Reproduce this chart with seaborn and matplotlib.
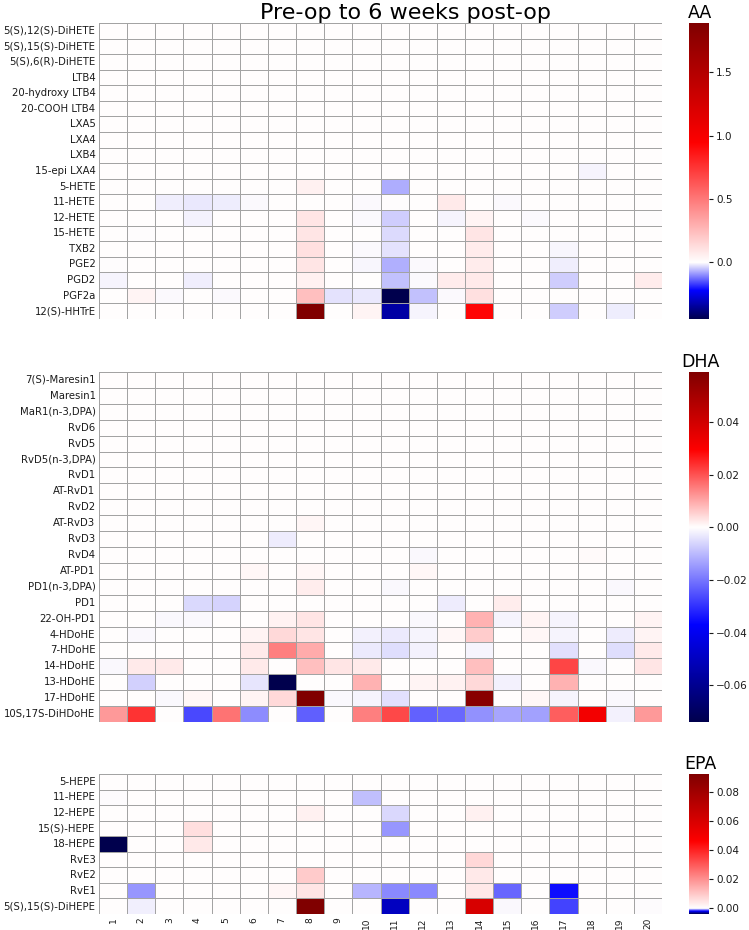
import numpy as np
import pandas as pd
import matplotlib
matplotlib.use("Agg")
import matplotlib.pyplot as plt
from matplotlib.colors import LinearSegmentedColormap
from matplotlib.ticker import MultipleLocator
import seaborn as sns

sns.set_style("white")
plt.rcParams['font.family'] = ['DejaVu Sans']

columns = [str(i) for i in range(1, 21)]

aa_rows = ["5(S),12(S)-DiHETE", "5(S),15(S)-DiHETE", "5(S),6(R)-DiHETE", "LTB4",
           "20-hydroxy LTB4", "20-COOH LTB4", "LXA5", "LXA4", "LXB4", "15-epi LXA4",
           "5-HETE", "11-HETE", "12-HETE", "15-HETE", "TXB2", "PGE2", "PGD2", "PGF2a",
           "12(S)-HHTrE"]
aa_values = [
    [0, 0, 0, 0, 0, 0, 0, 0, 0, 0, 0, 0, 0, 0, 0, 0, 0, 0, 0, 0],
    [0, 0, 0, 0, 0, 0, 0, 0, 0, 0, 0, 0, 0, 0, 0, 0, 0, 0, 0, 0],
    [0, 0, 0, 0, 0, 0, 0, 0, 0, 0, 0, 0, 0, 0, 0, 0, 0, 0, 0, 0],
    [0, 0, 0, 0, 0, 0, 0, 0, 0, 0, 0, 0, 0, 0, 0, 0, 0, 0, 0, 0],
    [0, 0, 0, 0, 0, 0, 0, 0, 0, 0, 0, 0, 0, 0, 0, 0, 0, 0, 0, 0],
    [0, 0, 0, 0, 0, 0, 0, 0, 0, 0, 0, 0, 0, 0, 0, 0, 0, 0, 0, 0],
    [0, 0, 0, 0, 0, 0, 0, 0, 0, 0, 0, 0, 0, 0, 0, 0, 0, 0, 0, 0],
    [0, 0, 0, 0, 0, 0, 0, 0, 0, 0, 0, 0, 0, 0, 0, 0, 0, 0, 0, 0],
    [0, 0, 0, 0, 0, 0, 0, 0, 0, 0, 0, 0, 0, 0, 0, 0, 0, 0, 0, 0],
    [0, 0, 0, 0, 0, 0, 0, 0, 0, 0, 0, 0, 0, 0, 0, 0, 0, -0.011, 0, 0],
    [0, 0, 0, 0, 0, 0, 0, 0.047, 0, 0, -0.074, 0, 0, 0, 0, 0, 0, 0, 0, 0],
    [0, 0, -0.016, -0.022, -0.018, -0.007, 0, 0, 0, -0.007, -0.004, 0, 0.076, 0, -0.007, 0, 0, 0, 0, 0],
    [0, 0, 0, -0.013, 0, 0, 0, 0.095, 0, -0.007, -0.045, 0, -0.011, 0.038, 0, -0.007, 0, 0, 0, -0.004],
    [0, -0.004, 0, 0, 0, 0, 0, 0.095, 0, 0, -0.034, 0, 0, 0.095, 0, 0, 0, 0, 0, 0],
    [0, 0, 0, 0, 0, 0, 0, 0.11, 0, -0.007, -0.027, 0, 0, 0.066, 0, 0, -0.009, 0, 0, 0],
    [-0.004, 0, 0, 0, 0, 0, 0, 0.095, 0, -0.009, -0.072, -0.007, 0, 0.066, 0, 0, -0.016, 0, 0, 0],
    [-0.011, 0, 0, -0.016, 0, 0, 0, 0.047, 0, 0, -0.056, -0.007, 0.066, 0.076, 0, 0, -0.045, 0, 0, 0.066],
    [0, 0.038, -0.007, 0, -0.007, 0, 0, 0.236, -0.027, -0.022, -0.45, -0.056, -0.007, 0.11, 0, 0, 0, 0, 0, 0],
    [0, 0, 0, 0, 0, 0, 0, 1.89, 0, 0.038, -0.34, -0.011, 0, 0.93, 0, 0, -0.045, 0, -0.018, 0],
]

dha_rows = ["7(S)-Maresin1", "Maresin1", "MaR1(n-3,DPA)", "RvD6", "RvD5", "RvD5(n-3,DPA)",
            "RvD1", "AT-RvD1", "RvD2", "AT-RvD3", "RvD3", "RvD4", "AT-PD1", "PD1(n-3,DPA)",
            "PD1", "22-OH-PD1", "4-HDoHE", "7-HDoHE", "14-HDoHE", "13-HDoHE", "17-HDoHE",
            "10S,17S-DiHDoHE"]
dha_values = [
    [0, 0, 0, 0, 0, 0, 0, 0, 0, 0, 0, 0, 0, 0, 0, 0, 0, 0, 0, 0],
    [0, 0, 0, 0, 0, 0, 0, 0, 0, 0, 0, 0, 0, 0, 0, 0, 0, 0, 0, 0],
    [0, 0, 0, 0, 0, 0, 0, 0, 0, 0, 0, 0, 0, 0, 0, 0, 0, 0, 0, 0],
    [0, 0, 0, 0, 0, 0, 0, 0, 0, 0, 0, 0, 0, 0, 0, 0, 0, 0, 0, 0],
    [0, 0, 0, 0, 0, 0, 0, 0, 0, 0, 0, 0, 0, 0, 0, 0, 0, 0, 0, 0],
    [0, 0, 0, 0, 0, 0, 0, 0, 0, 0, 0, 0, 0, 0, 0, 0, 0, 0, 0, 0],
    [0, 0, 0, 0, 0, 0, 0, 0, 0, 0, 0, 0, 0, 0, 0, 0, 0, 0, 0, 0],
    [0, 0, 0, 0, 0, 0, 0, 0, 0, 0, 0, 0, 0, 0, 0, 0, 0, 0, 0, 0],
    [0, 0, 0, 0, 0, 0, 0, 0, 0, 0, 0, 0, 0, 0, 0, 0, 0, 0, 0, 0],
    [0, 0, 0, 0, 0, 0, 0, 0.001, 0, 0, 0, 0, 0, 0, 0, 0, 0, 0, 0, 0],
    [0, 0, 0, 0, 0, 0, -0.0026, 0, 0, 0, 0, 0, 0, 0, 0, 0, 0, 0, 0, 0],
    [0, 0, 0, 0, 0, 0, 0, 0, 0, 0, 0, -0.001, 0, 0, 0, 0, 0, 0.0006, 0, 0],
    [0, 0, 0, 0, 0, 0.0009, 0, 0.0009, 0, 0, 0, 0.0009, 0, 0, 0, 0, 0, 0, 0, 0],
    [0, 0, 0, 0, 0, 0, 0, 0.002, 0, 0, -0.001, 0, 0, 0, 0, 0, 0, 0, -0.001, 0],
    [0, 0, 0, -0.0055, -0.0063, 0, 0, 0, 0, 0, 0, 0, -0.0026, 0, 0.002, 0, 0, 0, 0, 0],
    [0, 0, -0.001, -0.001, 0, 0, 0.0015, 0.003, 0, 0, 0, -0.001, 0, 0.0089, -0.0015, 0.0012, -0.0015, 0, 0, 0.0012],
    [0, -0.001, 0, 0, 0, 0.0012, 0.0044, 0.003, 0, -0.0019, -0.003, -0.0015, 0.0009, 0.0059, 0, 0.0009, -0.0015, 0, -0.0026, 0.0012],
    [0, 0, 0, 0, 0, 0.0024, 0.0148, 0.0097, 0, -0.003, -0.0048, -0.0019, 0, -0.0015, 0, 0, -0.0044, 0, -0.0048, 0.0024],
    [-0.001, 0.0024, 0.0024, 0, 0, 0.0024, 0, 0.0074, 0.003, 0.0024, 0, 0, 0, 0.0074, 0, 0, 0.0215, -0.001, 0, 0.003],
    [0, -0.0067, 0, 0, 0, -0.0037, -0.074, 0, 0, 0.0089, 0, 0.0012, 0.0015, 0.0044, -0.0019, 0, 0.0089, 0, 0, 0],
    [0, 0, -0.001, 0.0009, 0, 0.0012, 0.0044, 0.059, -0.001, -0.0015, -0.0044, 0, 0, 0.057, 0, 0.0009, -0.0015, 0, -0.001, 0],
    [0.0118, 0.0236, 0, -0.0266, 0.0162, -0.0167, 0, -0.0233, 0, 0.0148, 0.0212, -0.023, -0.022, -0.016, -0.013, -0.0137, 0.0186, 0.032, -0.002, 0.0118],
]

epa_rows = ["5-HEPE", "11-HEPE", "12-HEPE", "15(S)-HEPE", "18-HEPE", "RvE3", "RvE2", "RvE1",
            "5(S),15(S)-DiHEPE"]
epa_values = [
    [0, 0, 0, 0, 0, 0, 0, 0, 0, 0, 0, 0, 0, 0, 0, 0, 0, 0, 0, 0],
    [-0.00014, 0, 0, 0, 0, 0, 0, 0, 0, -0.0006, 0, 0, 0, 0, 0, 0, 0, 0, 0, 0],
    [0, 0, 0, 0, 0, 0, 0, 0.0023, 0, 0, -0.0004, 0, 0, 0.0023, 0, 0, 0, 0, 0, 0],
    [0, 0, 0, 0.0055, 0, 0, 0, 0, 0, 0, -0.0009, 0, 0, 0, 0, 0, 0, 0, 0, 0],
    [-0.004, 0, 0, 0.0037, 0, 0, 0, 0, 0, 0, 0, 0, 0, 0, 0, 0, 0, 0, 0, 0],
    [0, 0, 0, 0, 0, 0, 0, 0, 0, 0, 0, 0, 0, 0.0069, 0, 0, 0, 0, 0, 0],
    [0, 0, 0, 0, 0, 0, 0, 0.0092, 0, 0, 0, 0, 0, 0.0037, 0, 0, 0, 0, 0, 0],
    [0, -0.0009, 0, 0, 0, 0, 0.0014, 0.0046, -0.0001, -0.00066, -0.001, -0.001, 0, 0.0037, -0.00124, 0, -0.0019, -0.00006, 0, 0],
    [0, -0.00024, -0.0001, 0, 0, 0, 0, 0.092, 0, 0, -0.0027, -0.0001, 0, 0.06, -0.00016, 0, -0.0015, 0, 0, -0.00014],
]

title = "Pre-op to 6 weeks post-op"
panel_names = ["AA", "DHA", "EPA"]
cbar_steps = [0.5, 0.02, 0.02]

W, H = 749, 930
fig = plt.figure(figsize=(W / 100, H / 100), dpi=100)


def px_axes(left, top, right, bottom):
    return fig.add_axes([left / W, 1 - bottom / H, (right - left) / W, (bottom - top) / H])


def two_slope_cmap(vmin, vmax):
    f = -vmin / (vmax - vmin)
    eps = 0.0015
    base = plt.get_cmap("seismic")
    nodes = [(0.0, base(0.0)), (f / 2, base(0.25)), (f - eps, base(0.5)), (f + eps, base(0.5)),
             (f + (1 - f) / 2, base(0.75)), (1.0, base(1.0))]
    return LinearSegmentedColormap.from_list("ts", nodes, N=4096)


panels = [
    (aa_rows, aa_values, 23, 319),
    (dha_rows, dha_values, 372, 722),
    (epa_rows, epa_values, 774, 914),
]

text_color = "#1a1a1a"
for i, ((rows, vals, top, bottom), name, step) in enumerate(zip(panels, panel_names, cbar_steps)):
    df = pd.DataFrame(vals, index=rows, columns=columns)
    vmin, vmax = float(df.values.min()), float(df.values.max())
    cmap = two_slope_cmap(vmin, vmax)
    ax = px_axes(99, top, 662, bottom)
    cax = px_axes(689, top, 709, bottom)
    last = i == len(panels) - 1
    sns.heatmap(df, ax=ax, cbar_ax=cax, cmap=cmap, vmin=vmin, vmax=vmax,
                linewidths=0.7, linecolor="#a3a3a3",
                xticklabels=columns if last else False, yticklabels=rows)
    ax.tick_params(axis="both", length=0, pad=2.5, colors=text_color)
    ax.tick_params(axis="y", labelsize=7.3)
    ax.tick_params(axis="x", labelsize=6.5)
    plt.setp(ax.get_yticklabels(), rotation=0)
    if last:
        plt.setp(ax.get_xticklabels(), rotation=90)
    cax.yaxis.set_major_locator(MultipleLocator(step))
    cax.tick_params(axis="y", length=3, width=0.8, pad=2, labelsize=7.5,
                    colors=text_color, right=True, left=False)
    cax.set_ylim(vmin, vmax)
    fig.text(700 / W, 1 - (top - 5) / H, name, ha="center", va="baseline",
             fontsize=12.5, color="black")

fig.text(405 / W, 1 - 19 / H, title, ha="center", va="baseline", fontsize=16, color="black")

fig.savefig("out.png", dpi=100)
